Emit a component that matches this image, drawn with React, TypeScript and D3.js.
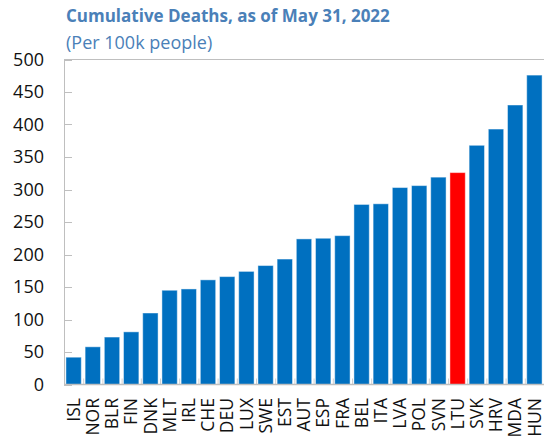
import React, { useEffect, useRef } from 'react';
import * as d3 from 'd3';

const countries = ['ISL', 'NOR', 'BLR', 'FIN', 'DNK', 'MLT', 'IRL', 'CHE', 'DEU', 'LUX', 'SWE', 'EST',
  'AUT', 'ESP', 'FRA', 'BEL', 'ITA', 'LVA', 'POL', 'SVN', 'LTU', 'SVK', 'HRV', 'MDA', 'HUN'];
const deaths = [42, 58, 73, 81, 110, 145, 147, 161, 166, 174, 183, 193,
  224, 225, 229, 277, 278, 303, 306, 319, 326, 368, 393, 430, 476];
const highlight = 'LTU';
const yTicks = [0, 50, 100, 150, 200, 250, 300, 350, 400, 450, 500];

const W = 544;
const H = 440;

const App: React.FC = () => {
  const svgRef = useRef<SVGSVGElement>(null);

  useEffect(() => {
    if (!svgRef.current) return;
    const svg = d3.select(svgRef.current);
    svg.selectAll('*').remove();

    const left = 64;
    const right = 544;
    const top = 59.5;
    const bottom = 384.5;
    const font = '"Open Sans", "Noto Sans", sans-serif';

    const x = d3.scaleBand<string>()
      .domain(countries)
      .range([left, right])
      .paddingInner(0.2)
      .paddingOuter(0.1);

    const y = d3.scaleLinear().domain([0, 500]).range([bottom, top]);

    // title
    svg.append('text')
      .attr('x', 66)
      .attr('y', 22)
      .attr('font-family', font)
      .attr('font-size', 17)
      .attr('font-weight', 700)
      .attr('fill', '#4A80B8')
      .text('Cumulative Deaths, as of May 31, 2022');

    svg.append('text')
      .attr('x', 66)
      .attr('y', 49)
      .attr('font-family', font)
      .attr('font-size', 18)
      .attr('fill', '#4A80B8')
      .text('(Per 100k people)');

    // frame
    const grey = '#BFBFBF';
    svg.append('line')
      .attr('x1', left).attr('x2', right)
      .attr('y1', top).attr('y2', top)
      .attr('stroke', grey).attr('stroke-width', 1);

    // y ticks (inside)
    svg.append('g')
      .selectAll('line')
      .data(yTicks)
      .join('line')
      .attr('x1', left).attr('x2', left + 8)
      .attr('y1', d => Math.round(y(d)) + 0.5)
      .attr('y2', d => Math.round(y(d)) + 0.5)
      .attr('stroke', grey);

    svg.append('g')
      .selectAll('text')
      .data(yTicks)
      .join('text')
      .attr('x', 44)
      .attr('y', d => y(d))
      .attr('dy', '0.35em')
      .attr('text-anchor', 'end')
      .attr('font-family', font)
      .attr('font-size', 18)
      .attr('fill', '#111')
      .text(d => d);

    // x boundary ticks
    svg.append('g')
      .selectAll('line')
      .data(d3.range(countries.length + 1))
      .join('line')
      .attr('x1', i => left + i * x.step() + 0.5)
      .attr('x2', i => left + i * x.step() + 0.5)
      .attr('y1', bottom - 6)
      .attr('y2', bottom)
      .attr('stroke', '#D0D0D0');

    // bars
    svg.append('g')
      .selectAll('rect')
      .data(countries)
      .join('rect')
      .attr('x', d => x(d)!)
      .attr('y', (d, i) => y(deaths[i]))
      .attr('width', x.bandwidth())
      .attr('height', (d, i) => bottom - y(deaths[i]))
      .attr('fill', d => (d === highlight ? '#FF0000' : '#0070C0'))
      .attr('stroke', 'rgba(255,255,255,0.45)')
      .attr('stroke-width', 1);

    // axes lines
    svg.append('line')
      .attr('x1', left + 0.5).attr('x2', left + 0.5)
      .attr('y1', top).attr('y2', bottom)
      .attr('stroke', grey);
    svg.append('line')
      .attr('x1', left).attr('x2', right)
      .attr('y1', bottom).attr('y2', bottom)
      .attr('stroke', grey)
      .attr('stroke-width', 1.5);

    // x labels
    svg.append('g')
      .selectAll('text')
      .data(countries)
      .join('text')
      .attr('transform', d => `translate(${x(d)! + x.bandwidth() / 2},398) rotate(-90)`)
      .attr('dy', '0.35em')
      .attr('text-anchor', 'end')
      .attr('font-family', font)
      .attr('font-size', 17.5)
      .attr('fill', '#111')
      .text(d => d);
  }, []);

  return (
    <div style={{ position: 'absolute', left: 0, top: 0, width: W, height: H, background: '#fff' }}>
      <svg ref={svgRef} width={W} height={H}></svg>
    </div>
  );
};

export default App;
